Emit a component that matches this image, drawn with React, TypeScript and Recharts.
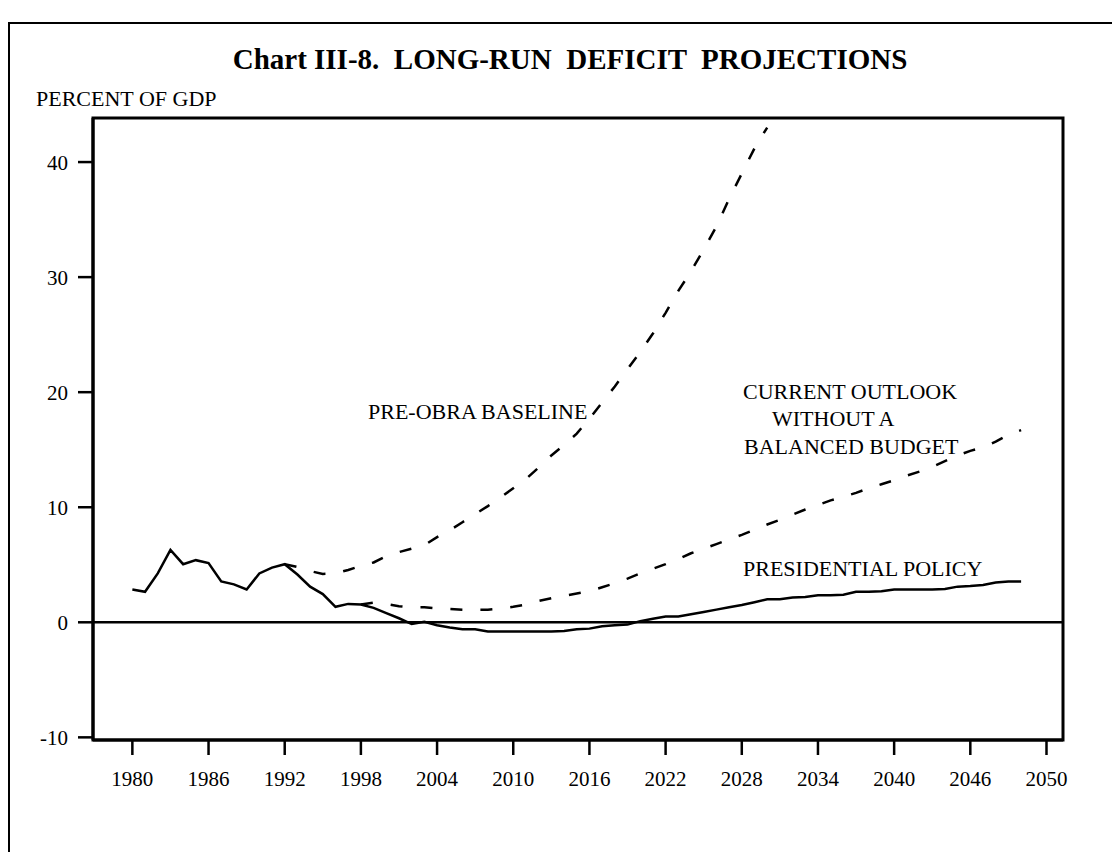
import React from 'react';
import {
  LineChart,
  Line,
  XAxis,
  YAxis,
  ReferenceLine,
  ReferenceArea,
} from 'recharts';

// deficit, percent of GDP
const solidStart = 1980; // history + presidential policy
const solidValues = [
  2.85, 2.65, 4.25, 6.3, 5.05, 5.4, 5.15, 3.55, 3.3, 2.85, // 1980-89
  4.25, 4.75, 5.05, 4.15, 3.1, 2.45, 1.35, 1.6, 1.55, 1.25, // 1990-99
  0.8, 0.35, -0.15, 0.05, -0.25, -0.45, -0.6, -0.6, -0.8, -0.8, // 2000-09
  -0.8, -0.8, -0.8, -0.8, -0.75, -0.6, -0.55, -0.35, -0.25, -0.2, // 2010-19
  0.1, 0.3, 0.5, 0.5, 0.7, 0.9, 1.1, 1.3, 1.5, 1.75, // 2020-29
  2.0, 2.0, 2.15, 2.2, 2.35, 2.35, 2.4, 2.65, 2.65, 2.7, // 2030-39
  2.85, 2.85, 2.85, 2.85, 2.9, 3.1, 3.15, 3.25, 3.45, 3.55, // 2040-49
  3.55, // 2050
];

const currentStart = 1998; // current outlook without a balanced budget
const currentValues = [
  1.55, 1.7, // 1998-99
  1.6, 1.4, 1.3, 1.3, 1.2, 1.15, 1.1, 1.1, 1.1, 1.2, // 2000-09
  1.35, 1.55, 1.85, 2.1, 2.3, 2.5, 2.7, 3.05, 3.4, 3.8, // 2010-19
  4.25, 4.65, 5.05, 5.5, 6.0, 6.4, 6.8, 7.2, 7.6, 8.05, // 2020-29
  8.5, 8.9, 9.35, 9.8, 10.2, 10.6, 10.9, 11.25, 11.65, 12.0, // 2030-39
  12.35, 12.75, 13.1, 13.5, 14.0, 14.5, 14.9, 15.2, 15.7, 16.3, // 2040-49
  16.7, // 2050
];

const preObraStart = 1992; // pre-OBRA baseline
const preObraValues = [
  5.05, 4.8, 4.45, 4.2, 4.25, 4.55, 4.9, 5.2, // 1992-99
  5.75, 6.1, 6.4, 6.7, 7.4, 8.0, 8.7, 9.4, 10.1, 10.85, // 2000-09
  11.65, 12.45, 13.45, 14.5, 15.4, 16.4, 17.7, 19.1, 20.5, 22.0, // 2010-19
  23.5, 25.1, 26.9, 28.8, 30.5, 32.4, 34.4, 36.8, 39.0, 41.2, // 2020-29
  43.0, // 2030
];

// the last tick sits one 6-year step after 2046 but is labelled 2050
const xTicks = [1980, 1986, 1992, 1998, 2004, 2010, 2016, 2022, 2028, 2034, 2040, 2046, 2052];
const xTickLabels = ['1980', '1986', '1992', '1998', '2004', '2010', '2016', '2022', '2028', '2034', '2040', '2046', '2050'];
const yTicks = [-10, 0, 10, 20, 30, 40];

const X_MIN = 1976.9;
const X_MAX = 2053.3;
const Y_MIN = -10.23;
const Y_MAX = 43.83;

const FONT = "'Liberation Serif', 'Times New Roman', Times, serif";

const pick = (start: number, values: number[], year: number) => {
  const i = year - start;
  return i >= 0 && i < values.length ? values[i] : null;
};

const data = solidValues.map((_, i) => {
  const year = solidStart + i;
  return {
    year,
    presidential: solidValues[i],
    current: pick(currentStart, currentValues, year),
    preObra: pick(preObraStart, preObraValues, year),
  };
});

const textStyle: React.CSSProperties = {
  position: 'absolute',
  fontFamily: FONT,
  fontSize: 22,
  lineHeight: '22px',
  color: '#000',
  whiteSpace: 'pre',
};

export default function App() {
  return (
    <div
      style={{
        position: 'fixed',
        left: 0,
        top: 0,
        width: 1112,
        height: 852,
        overflow: 'hidden',
        background: '#fff',
      }}
    >
      {/* outer frame, runs off the page right and bottom */}
      <div
        style={{
          position: 'absolute',
          left: 8,
          top: 22,
          width: 1200,
          height: 1000,
          border: '2px solid #000',
        }}
      />
      <div style={{ position: 'absolute', left: 0, top: 0 }}>
        <LineChart
          width={1112}
          height={852}
          data={data}
          margin={{ top: 118, right: 49, bottom: 72, left: 0 }}
        >
          <XAxis
            dataKey="year"
            type="number"
            domain={[X_MIN, X_MAX]}
            ticks={xTicks}
            tickFormatter={(v: number) => xTickLabels[xTicks.indexOf(v)] ?? String(v)}
            height={40}
            tickSize={15}
            tickMargin={16}
            allowDataOverflow
            axisLine={{ stroke: '#000', strokeWidth: 3 }}
            tickLine={{ stroke: '#000', strokeWidth: 2.5 }}
            tick={{ fill: '#000', fontSize: 21, fontFamily: FONT }}
          />
          <YAxis
            type="number"
            domain={[Y_MIN, Y_MAX]}
            ticks={yTicks}
            width={93}
            tickSize={15}
            tickMargin={10}
            allowDataOverflow
            axisLine={{ stroke: '#000', strokeWidth: 3 }}
            tickLine={{ stroke: '#000', strokeWidth: 2.5 }}
            tick={{ fill: '#000', fontSize: 21, fontFamily: FONT }}
          />
          <ReferenceArea
            x1={X_MIN}
            x2={X_MAX}
            y1={Y_MIN}
            y2={Y_MAX}
            fill="none"
            fillOpacity={0}
            stroke="#000"
            strokeWidth={3}
          />
          <ReferenceLine y={0} stroke="#000" strokeWidth={2.5} />
          <Line
            dataKey="preObra"
            stroke="#000"
            strokeWidth={2.5}
            strokeDasharray="12 18"
            dot={false}
            activeDot={false}
            isAnimationActive={false}
          />
          <Line
            dataKey="current"
            stroke="#000"
            strokeWidth={2.5}
            strokeDasharray="12 18"
            dot={false}
            activeDot={false}
            isAnimationActive={false}
          />
          <Line
            dataKey="presidential"
            stroke="#000"
            strokeWidth={2.5}
            dot={false}
            activeDot={false}
            isAnimationActive={false}
          />
        </LineChart>
      </div>

      <div
        style={{
          ...textStyle,
          left: 70,
          width: 1000,
          top: 45,
          fontSize: 29,
          lineHeight: '29px',
          fontWeight: 'bold',
          textAlign: 'center',
        }}
      >
        {'Chart III-8.  LONG-RUN  DEFICIT  PROJECTIONS'}
      </div>
      <div style={{ ...textStyle, left: 36, top: 88 }}>PERCENT OF GDP</div>
      <div style={{ ...textStyle, left: 368, top: 401 }}>PRE-OBRA BASELINE</div>
      <div style={{ ...textStyle, left: 743, top: 381 }}>CURRENT OUTLOOK</div>
      <div style={{ ...textStyle, left: 772, top: 408 }}>WITHOUT A</div>
      <div style={{ ...textStyle, left: 744, top: 436 }}>BALANCED BUDGET</div>
      <div style={{ ...textStyle, left: 743, top: 558 }}>PRESIDENTIAL POLICY</div>
    </div>
  );
}
